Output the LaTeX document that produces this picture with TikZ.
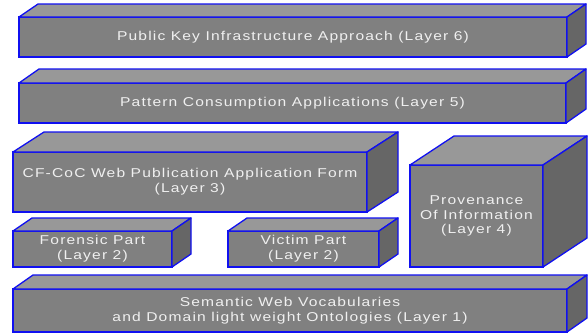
\documentclass[tikz,border=0pt]{standalone}
\usepackage{fontspec}
\setmainfont{Liberation Sans}[FakeStretch=1.22, LetterSpace=9]
\definecolor{frontgray}{HTML}{808080}
\definecolor{topgray}{HTML}{989898}
\definecolor{sidegray}{HTML}{666666}
\definecolor{edgeblue}{HTML}{1010F0}
\definecolor{labelwhite}{HTML}{F0F0F0}
\tikzset{
  front/.style={draw=edgeblue, fill=frontgray, line width=1.3pt, inner sep=0pt, outer sep=0pt,
    text=labelwhite, align=center, font=\fontsize{12.8}{14.8}\selectfont},
  topface/.style={draw=edgeblue, fill=topgray, line width=1.3pt, line join=round},
  sideface/.style={draw=edgeblue, fill=sidegray, line width=1.3pt, line join=round},
}
% \cuboid{name}{x1}{y1}{x2}{y2}{dx}{dy}{label}: front face from (x1,y1) to (x2,y2),
% top and right faces pushed back by dx to the right and dy upwards
\newcommand{\cuboid}[8]{%
  \node[front, minimum width={(#4-#2)*1pt}, minimum height={(#5-#3)*1pt}] (#1)
    at ({(#2+#4)/2},{(#3+#5)/2}) {#8};
  \draw[topface] (#1.north west) -- ++(#6,-#7) -- ++({#4-#2},0) -- (#1.north east) -- cycle;
  \draw[sideface] (#1.north east) -- ++(#6,-#7) -- ++(0,{#5-#3}) -- (#1.south east) -- cycle;
}
\begin{document}
\begin{tikzpicture}[x=1pt, y=-1pt]
  \useasboundingbox (0,0) rectangle (588,333);
  \cuboid{pki}{19}{17}{567}{57}{19}{13}{Public Key Infrastructure Approach (Layer 6)}
  \cuboid{pattern}{19}{83}{566}{123}{20}{14}{Pattern Consumption Applications (Layer 5)}
  \cuboid{webform}{13}{152}{367}{212}{31}{20}{CF-CoC Web Publication Application Form\\(Layer 3)}
  \cuboid{provenance}{410}{165}{543}{267}{44}{29}{Provenance\\Of Information\\(Layer 4)}
  \cuboid{forensic}{13}{231}{172}{267}{19}{13}{Forensic Part\\(Layer 2)}
  \cuboid{victim}{228}{231}{379}{267}{19}{13}{Victim Part\\(Layer 2)}
  \cuboid{semantic}{13}{289}{567}{332}{20}{14}{Semantic Web Vocabularies\\and Domain light weight Ontologies (Layer 1)}
\end{tikzpicture}
\end{document}
